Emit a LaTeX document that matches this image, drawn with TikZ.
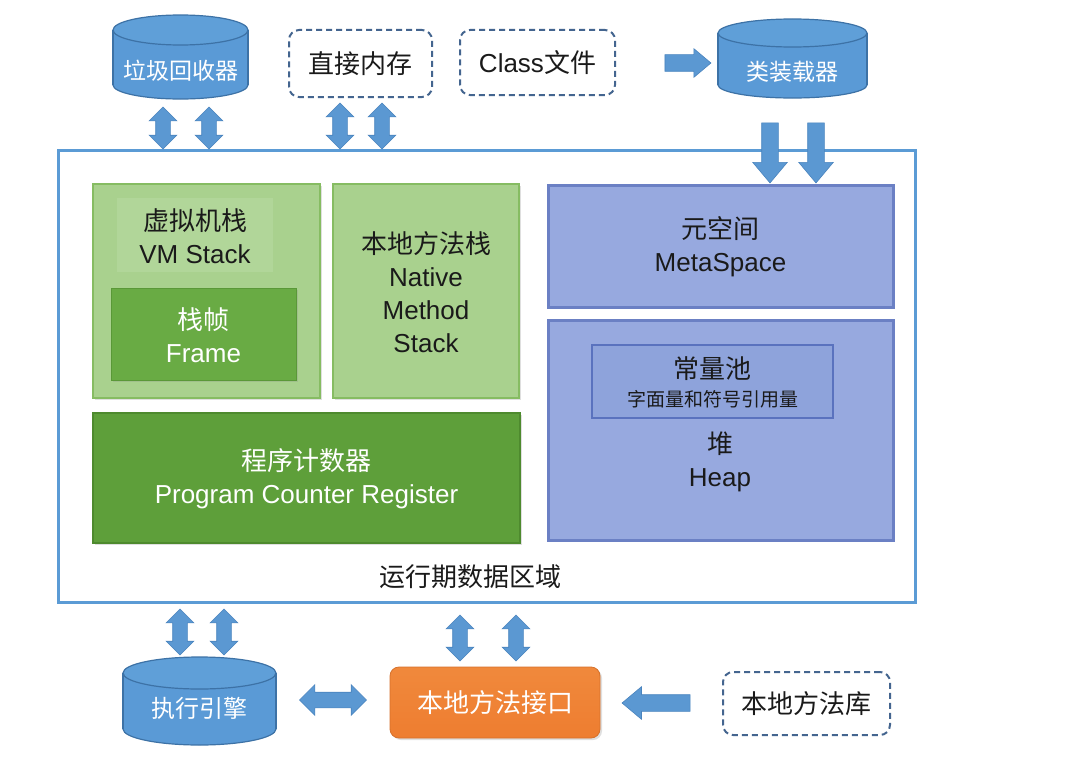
\documentclass[tikz,border=0pt]{standalone}
\usepackage{fontspec}
\setmainfont{Liberation Sans}
\newfontfamily\cjk{Noto Sans CJK SC}
\usetikzlibrary{shapes.arrows,shadows}
\definecolor{outerc}{HTML}{5B9BD5}
\definecolor{lgreen}{HTML}{A9D18E}
\definecolor{lgreenb}{HTML}{86BC62}
\definecolor{vmtitle}{HTML}{B1D699}
\definecolor{mgreen}{HTML}{69AB44}
\definecolor{mgreenb}{HTML}{5A9838}
\definecolor{dgreen}{HTML}{5E9F3A}
\definecolor{dgreenb}{HTML}{4E8A2E}
\definecolor{bpurple}{HTML}{97A9DF}
\definecolor{bpurpleb}{HTML}{6B80C4}
\definecolor{poolf}{HTML}{8EA3DB}
\definecolor{poolb}{HTML}{5A72BE}
\definecolor{cylbody}{HTML}{5A9AD6}
\definecolor{cyltop}{HTML}{5F9FD8}
\definecolor{cylline}{HTML}{3D72A6}
\definecolor{arrf}{HTML}{5B98D2}
\definecolor{arrb}{HTML}{4A84BE}
\definecolor{dashc}{HTML}{44658F}
\definecolor{orangef}{HTML}{EE7D30}
\definecolor{orangetop}{HTML}{F0893C}
\definecolor{txt}{HTML}{1A1A1A}
\begin{document}
\begin{tikzpicture}[x=1pt,y=-1pt,
  lbl/.style={font=\fontsize{26}{33}\selectfont, align=center, text=txt},
  wlbl/.style={font=\fontsize{26}{33}\selectfont, align=center, text=white},
  box/.style={rectangle, inner sep=0pt},
  greenbox/.style={box, fill=lgreen, draw=lgreenb, line width=2pt,
    drop shadow={opacity=0.25, shadow xshift=2pt, shadow yshift=-2pt}},
  bluebox/.style={box, fill=bpurple, draw=bpurpleb, line width=3pt,
    drop shadow={opacity=0.25, shadow xshift=2pt, shadow yshift=-2pt}},
  dashbox/.style={box, draw=dashc, line width=2pt, dash pattern=on 6pt off 4pt,
    rounded corners=10pt, fill=white},
  darr/.style={double arrow, fill=arrf, draw=arrb, line width=0.6pt, inner xsep=0pt, inner ysep=7pt,
    double arrow head extend=6.5pt, double arrow head indent=0pt},
  sarr/.style={single arrow, fill=arrf, draw=arrb, line width=0.6pt, inner xsep=0pt, inner ysep=8pt,
    single arrow head indent=0pt, single arrow tip angle=80},
  cyl/.style={fill=cylbody, draw=cylline, line width=1.2pt}
]
\useasboundingbox[fill=white] (0,0) rectangle (1084,760);

% outer runtime area
\node[box, draw=outerc, line width=3pt, fill=white, minimum width=857, minimum height=452] (rt) at (486.5,376) {};
\node[lbl] (rtlabel) at (470,577) {\cjk 运行期数据区域};

% VM stack
\node[greenbox, minimum width=227, minimum height=214] (vms) at (206.5,291) {};
\node[box, fill=vmtitle, minimum width=156, minimum height=74] (vmt) at (195,235) {};
\node[lbl] (vmtl) at (195,236) {{\cjk 虚拟机栈}\\VM Stack};
\node[box, fill=mgreen, draw=mgreenb, line width=1pt, minimum width=185, minimum height=92,
  drop shadow={opacity=0.2, shadow xshift=2pt, shadow yshift=-2pt}] (frame) at (203.5,334) {};
\node[wlbl] (framel) at (203.5,335) {{\cjk 栈帧}\\Frame};

% native method stack
\node[greenbox, minimum width=186, minimum height=214] (nms) at (426,291) {};
\node[lbl] (nmsl) at (426,292) {{\cjk 本地方法栈}\\Native\\Method\\Stack};

% program counter
\node[box, fill=dgreen, draw=dgreenb, line width=2pt, minimum width=427, minimum height=130,
  drop shadow={opacity=0.25, shadow xshift=2pt, shadow yshift=-2pt}] (pc) at (306.5,478) {};
\node[wlbl] (pcl) at (306.5,479) {{\cjk 程序计数器}\\Program Counter Register};

% metaspace
\node[bluebox, minimum width=345, minimum height=122] (meta) at (720.5,246) {};
\node[lbl] (metal) at (720.5,247) {{\cjk 元空间}\\MetaSpace};

% heap
\node[bluebox, minimum width=345, minimum height=220] (heap) at (720.5,430) {};
\node[box, fill=poolf, draw=poolb, line width=2.5pt, minimum width=241, minimum height=73] (pool) at (712.5,381.5) {};
\node[lbl] (pooll1) at (712.5,369) {\cjk 常量池};
\node[font=\fontsize{19}{22}\selectfont, text=txt] (pooll2) at (712.5,399) {\cjk 字面量和符号引用量};
\node[lbl] (heapl) at (720,462) {{\cjk 堆}\\Heap};

% cylinders
% garbage collector
\node[box, minimum width=135, minimum height=84] (gc) at (180.5,57) {};
\path[cyl] (180.5,85) ellipse [x radius=67.5, y radius=14];
\fill[cylbody] (113,30) rectangle (248,85);
\draw[cylline, line width=1.2pt] (113,30) -- (113,85) (248,30) -- (248,85);
\path[cyl, fill=cyltop] (180.5,30) ellipse [x radius=67.5, y radius=15];
\node[font=\fontsize{23}{28}\selectfont, text=white] (gcl) at (180.5,71) {\cjk 垃圾回收器};

% class loader
\node[box, minimum width=149, minimum height=80] (cl) at (792.5,58) {};
\path[cyl] (792.5,85) ellipse [x radius=74.5, y radius=13];
\fill[cylbody] (718,33) rectangle (867,85);
\draw[cylline, line width=1.2pt] (718,33) -- (718,85) (867,33) -- (867,85);
\path[cyl, fill=cyltop] (792.5,33) ellipse [x radius=74.5, y radius=14];
\node[font=\fontsize{23}{28}\selectfont, text=white] (cll) at (792.5,72) {\cjk 类装载器};

% execution engine
\node[box, minimum width=153, minimum height=88] (ee) at (199.5,701) {};
\path[cyl] (199.5,729) ellipse [x radius=76.5, y radius=16];
\fill[cylbody] (123,673) rectangle (276,729);
\draw[cylline, line width=1.2pt] (123,673) -- (123,729) (276,673) -- (276,729);
\path[cyl, fill=cyltop] (199.5,673) ellipse [x radius=76.5, y radius=16];
\node[font=\fontsize{24}{28}\selectfont, text=white] (eel) at (199.5,708) {\cjk 执行引擎};

% dashed boxes
\node[dashbox, minimum width=143, minimum height=67] (dm) at (360.5,63.5) {};
\node[lbl] (dml) at (360.5,64) {\cjk 直接内存};
\node[dashbox, minimum width=155, minimum height=65] (cls) at (537.5,62.5) {};
\node[lbl] (clsl) at (537.5,63) {Class{\cjk 文件}};
\node[dashbox, minimum width=167, minimum height=63] (nlib) at (806.5,703.5) {};
\node[lbl] (nlibl) at (806.5,704) {\cjk 本地方法库};

% JNI
\node[box, rounded corners=9pt, top color=orangetop, bottom color=orangef, draw=orangef!90!black, line width=0.8pt,
  minimum width=210, minimum height=71,
  drop shadow={opacity=0.25, shadow xshift=2pt, shadow yshift=-2pt}] (jni) at (495,702.5) {};
\node[wlbl] (jnil) at (495,703) {\cjk 本地方法接口};

% arrows
\node[sarr, minimum height=46, single arrow head extend=6pt] (a1) at (683,63) {};
\node[sarr, minimum height=60, single arrow head extend=9pt, rotate=-90] (a2) at (770,148) {};
\node[sarr, minimum height=60, single arrow head extend=9pt, rotate=-90] (a3) at (816,148) {};
\node[darr, minimum height=42, rotate=90] (d1) at (163,128) {};
\node[darr, minimum height=42, rotate=90] (d2) at (209,128) {};
\node[darr, minimum height=46, rotate=90] (d3) at (340,126) {};
\node[darr, minimum height=46, rotate=90] (d4) at (382,126) {};
\node[darr, minimum height=46, rotate=90] (d5) at (180,632) {};
\node[darr, minimum height=46, rotate=90] (d6) at (224,632) {};
\node[darr, minimum height=46, rotate=90] (d7) at (460,638) {};
\node[darr, minimum height=46, rotate=90] (d8) at (516,638) {};
\node[darr, minimum height=67, inner ysep=7.5pt, double arrow head extend=7.5pt] (d9) at (333,700) {};
\node[sarr, minimum height=68, single arrow head extend=8pt, rotate=180] (a4) at (661,703) {};
\end{tikzpicture}
\end{document}
